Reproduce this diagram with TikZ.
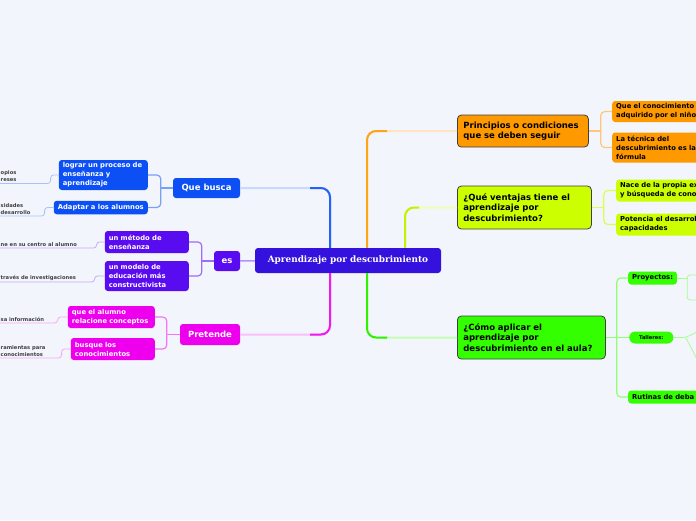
\documentclass[tikz,border=0pt]{standalone}
\usepackage{fontspec}
\setmainfont{DejaVu Sans}
\newfontfamily\rootfont{DejaVu Serif}
\usetikzlibrary{positioning}

\definecolor{bgc}{RGB}{243,245,253}
\definecolor{rootc}{RGB}{52,17,221}
\definecolor{orc}{RGB}{255,153,0}
\definecolor{limec}{RGB}{204,255,0}
\definecolor{grc}{RGB}{51,255,0}
\definecolor{bluec}{RGB}{12,80,245}
\definecolor{violc}{RGB}{90,12,240}
\definecolor{magc}{RGB}{238,0,238}

\begin{document}
\begin{tikzpicture}
[x=1pt,y=-1pt,
root/.style={fill=rootc,rounded corners=3pt,text=white,font=\rootfont\bfseries\fontsize{8.9}{11}\selectfont,minimum width=186pt,minimum height=25pt,inner sep=0pt},
topic/.style={draw=black!75,line width=0.8pt,rounded corners=4pt,font=\bfseries\fontsize{8.5}{10.5}\selectfont,inner xsep=6pt,inner ysep=0pt,align=left,anchor=west},
ltopic/.style={rounded corners=3pt,text=white,font=\bfseries\fontsize{8.5}{10.5}\selectfont,inner sep=0pt,minimum height=20pt},
sub/.style={rounded corners=3pt,font=\bfseries\fontsize{6.8}{9}\selectfont,inner xsep=4pt,inner ysep=1pt,align=left,anchor=west},
leaf/.style={text=black!75,font=\bfseries\fontsize{5.2}{6.6}\selectfont,inner sep=0pt,align=left,anchor=south west},
trunk/.style={line width=2pt,rounded corners=9pt},
twig/.style={line width=1.2pt,rounded corners=4pt},
hair/.style={line width=0.8pt,rounded corners=3pt}]
\useasboundingbox (0,0) rectangle (696,520);
\fill[bgc] (0,0) rectangle (696,520);
\clip (0,0) rectangle (696,520);

% centre
\node[root] (main) at (348,260.5) {Aprendizaje por descubrimiento};

% right topics
\node[topic,fill=orc,text width=119pt,minimum height=32pt] (prin) at (457,131) {Principios o condiciones\\que se deben seguir};
\node[topic,fill=limec,text width=122pt,minimum height=43pt] (vent) at (457,207.5) {¿Qué ventajas tiene el\\aprendizaje por\\descubrimiento?};
\node[topic,fill=grc,text width=136pt,minimum height=43pt] (como) at (457,337.5) {¿Cómo aplicar el\\aprendizaje por\\descubrimiento en el aula?};

\node[sub,fill=orc,text width=130pt,minimum height=21pt] (o1) at (612,111.5) {Que el conocimiento\\adquirido por el niño};
\node[sub,fill=orc,text width=130pt,minimum height=30pt] (o2) at (612,147.5) {La técnica del\\descubrimiento es la\\fórmula};
\node[sub,fill=limec,text width=130pt,minimum height=22pt] (l1) at (616,190.5) {Nace de la propia ex\\y búsqueda de cono};
\node[sub,fill=limec,text width=130pt,minimum height=22pt] (l2) at (616,224.5) {Potencia el desarrol\\capacidades};
\node[sub,fill=grc,minimum height=13pt] (g1) at (628,278) {Proyectos:};
\node[sub,fill=grc,rounded corners=6pt,font=\bfseries\fontsize{5.1}{6}\selectfont,inner xsep=10pt,minimum height=12pt] (g2) at (629,337.5) {Talleres:};
\node[sub,fill=grc,text width=130pt,minimum height=13pt] (g3) at (628,397) {Rutinas de deba};

% left topics
\node[ltopic,fill=bluec,minimum width=67pt] (busca) at (206.5,188) {Que busca};
\node[ltopic,fill=violc,minimum width=26pt] (es) at (227,261) {es};
\node[ltopic,fill=magc,minimum width=60pt,minimum height=21pt] (pret) at (210,334.5) {Pretende};

\node[sub,anchor=east,fill=bluec,text=white,text width=81pt,minimum height=30pt] (b1) at (148,175) {lograr un proceso de\\enseñanza y\\aprendizaje};
\node[sub,anchor=east,fill=bluec,text=white,align=center,minimum width=94pt,minimum height=13.5pt] (b2) at (148,207.5) {Adaptar a los alumnos};
\node[sub,anchor=east,fill=violc,text=white,text width=76pt,minimum height=22pt] (e1) at (189,242) {un método de\\enseñanza};
\node[sub,anchor=east,fill=violc,text=white,text width=76pt,minimum height=30pt] (e2) at (189,276) {un modelo de\\educación más\\constructivista};
\node[sub,anchor=east,fill=magc,text=white,text width=79pt,minimum height=22pt] (p1) at (155,317) {que el alumno\\relacione conceptos};
\node[sub,anchor=east,fill=magc,text=white,text width=76pt,minimum height=22pt] (p2) at (155,349) {busque los\\conocimientos};

% cut leaves at the left edge
\node[leaf] (b1a) at (0.5,181.5) {opios\\reses};
\node[leaf] (b2a) at (0.5,214.5) {sidades\\desarrollo};
\node[leaf] (e1a) at (0.5,246.5) {ne en su centro al alumno};
\node[leaf] (e2a) at (0.5,280.5) {través de investigaciones};
\node[leaf] (p1a) at (0.5,321.5) {sa información};
\node[leaf] (p2a) at (0.5,356.5) {ramientas para\\conocimientos};

\coordinate (b1u) at (0,183.5);
\coordinate (b2u) at (0,216);
\coordinate (e1u) at (0,248);
\coordinate (e2u) at (0,282);
\coordinate (p1u) at (0,323);
\coordinate (p2u) at (0,358);

% junctions
\coordinate (pj) at ([xshift=12pt]prin.east);
\coordinate (vj) at ([xshift=12pt]vent.east);
\coordinate (cj) at ([xshift=11pt]como.east);
\coordinate (yj) at ([xshift=10pt]g1.east);
\coordinate (tj) at ([xshift=12pt]g2.east);
\coordinate (qj) at ([xshift=-12pt]busca.west);
\coordinate (ej) at ([xshift=-12pt]es.west);
\coordinate (rj) at ([xshift=-13pt]pret.west);
\coordinate (y1) at (697,275);
\coordinate (y2) at (697,300);
\coordinate (t1) at (697,332);
\coordinate (t2) at (697,359);

% trunks
\draw[trunk,orc!25] ([xshift=19pt]main.north) |- (prin.west);
\draw[trunk,orc!90,shorten >=70pt] ([xshift=19pt]main.north) |- (prin.west);
\draw[trunk,limec!30] ([xshift=57pt]main.north) |- (vent.west);
\draw[trunk,limec!95!black,shorten >=38pt] ([xshift=57pt]main.north) |- (vent.west);
\draw[trunk,grc!30] ([xshift=19pt]main.south) |- (como.west);
\draw[trunk,grc!95!black,shorten >=70pt] ([xshift=19pt]main.south) |- (como.west);
\draw[trunk,bluec!22] (busca.east) -| ([xshift=-18pt]main.north);
\draw[trunk,bluec!90,shorten <=70pt] (busca.east) -| ([xshift=-18pt]main.north);
\draw[trunk,magc!25] (pret.east) -| ([xshift=-18pt]main.south);
\draw[trunk,magc!90,shorten <=70pt] (pret.east) -| ([xshift=-18pt]main.south);
\draw[line width=1.5pt,violc!45] (es) -- (main);

% twigs
\draw[twig,orc!55] (prin.east) -- (pj);
\draw[twig,orc!55] (pj) |- (o1.west);
\draw[twig,orc!55] (pj) |- (o2.west);
\draw[twig,limec!70] (vent.east) -- (vj);
\draw[twig,limec!70] (vj) |- (l1.west);
\draw[twig,limec!70] (vj) |- (l2.west);
\draw[twig,grc!55] (como.east) -- (cj);
\draw[twig,grc!55] (cj) |- (g1.west);
\draw[twig,grc!55] (cj) -- (g2.west);
\draw[twig,grc!55] (cj) |- (g3.west);
\draw[hair,grc!45] (g1.east) -- (yj);
\draw[hair,grc!45] (yj) |- (y1);
\draw[hair,grc!45] (yj) |- (y2);
\draw[hair,grc!45] (g2.east) -- (tj) -- (t1);
\draw[hair,grc!45] (tj) -- (t2);
\draw[twig,bluec!55] (busca.west) -- (qj);
\draw[twig,bluec!55] (qj) |- (b1.east);
\draw[twig,bluec!55] (qj) |- (b2.east);
\draw[twig,violc!60] (es.west) -- (ej);
\draw[twig,violc!60] (ej) |- (e1.east);
\draw[twig,violc!60] (ej) |- (e2.east);
\draw[twig,magc!55] (pret.west) -- (rj);
\draw[twig,magc!55] (rj) |- (p1.east);
\draw[twig,magc!55] (rj) |- (p2.east);

% hairs to the cut leaves
\draw[hair,bluec!35] (b1.west) -- ++(-8,0) |- (b1u);
\draw[hair,bluec!35] (b2.west) -- ++(-9,0) |- (b2u);
\draw[hair,violc!35] (e1.west) -- ++(-8,0) |- (e1u);
\draw[hair,violc!35] (e2.west) -- ++(-10,0) |- (e2u);
\draw[hair,magc!35] (p1.west) -- ++(-10,0) |- (p1u);
\draw[hair,magc!35] (p2.west) -- ++(-9,0) |- (p2u);
\end{tikzpicture}
\end{document}
